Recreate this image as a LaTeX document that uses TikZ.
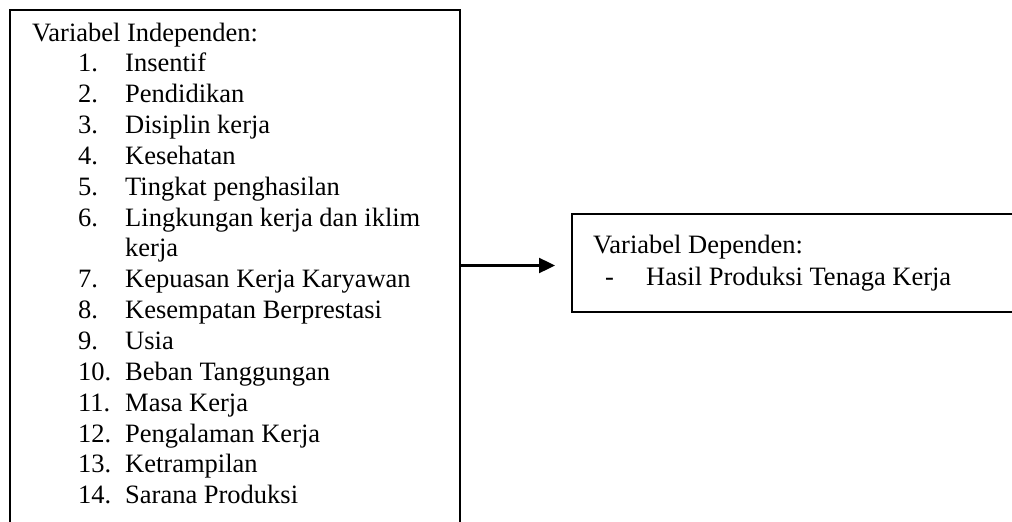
\documentclass[tikz,border=0pt]{standalone}
\usepackage{fontspec}
\setmainfont{Liberation Serif}
\usetikzlibrary{arrows.meta}
\begin{document}
\begin{tikzpicture}[x=1pt,y=-1pt,
  framebox/.style={draw=black,line width=1.7pt,rectangle,inner sep=0pt,anchor=north west},
  txt/.style={anchor=base west,inner sep=0pt,font=\fontsize{26.5}{30.75}\selectfont},
  link/.style={line width=2.4pt,-{Triangle[length=16pt,width=15pt]}}]
\useasboundingbox (0,0) rectangle (1012,522);
\clip (0,0) rectangle (1012,522);
\node[framebox,minimum width=450pt,minimum height=540pt] (indep) at (9,9) {};
\node[framebox,minimum width=460pt,minimum height=98pt] (dep) at (571,213) {};
\node[txt] (t0) at (32,41) {Variabel Independen:};
\foreach \n/\l/\t in {1/1/Insentif,2/2/Pendidikan,3/3/Disiplin kerja,4/4/Kesehatan,5/5/Tingkat penghasilan,6/6/Lingkungan kerja dan iklim,7/8/Kepuasan Kerja Karyawan,8/9/Kesempatan Berprestasi,9/10/Usia,10/11/Beban Tanggungan,11/12/Masa Kerja,12/13/Pengalaman Kerja,13/14/Ketrampilan,14/15/Sarana Produksi}{
  \node[txt] (n\n) at (78,41+\l*30.85) {\n.};
  \node[txt] (i\n) at (125,41+\l*30.85) {\t};
}
\node[txt] (i6b) at (125,41+7*30.85) {kerja};
\node[txt] (d0) at (593,253) {Variabel Dependen:};
\node[txt] (d1) at (605,285) {-};
\node[txt] (d1t) at (646,285) {Hasil Produksi Tenaga Kerja};
\coordinate (tip) at (555,265.5);
\draw[link] (tip -| indep.east) -- (tip);
\end{tikzpicture}
\end{document}
